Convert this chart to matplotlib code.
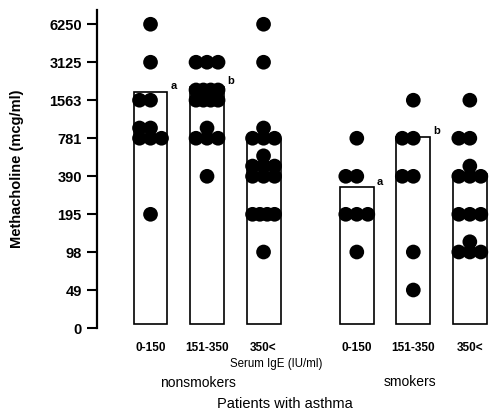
import numpy as np
import matplotlib.pyplot as plt

plt.rcParams['font.family'] = ['Liberation Sans', 'DejaVu Sans']

# datos (mcg/ml de metacolina)
ige_labels = ['0-150', '151-350', '350<', '0-150', '151-350', '350<']
group_names = ['nonsmokers', 'smokers']
bar_heights = [1814, 1985, 768, 318, 800, 406]
bar_marks = ['a', 'b', '', 'a', 'b', '']

dots_ns_low = [6250, 3125, 1563, 1563, 781, 781, 781, 781, 781, 195]
dots_ns_mid = [3125, 3125, 3125, 1563, 1563, 1563, 1563, 1563, 1563, 1563, 1563,
               781, 781, 781, 781, 390]
dots_ns_high = [6250, 3125, 781, 781, 781, 781, 390, 390, 390, 390, 390, 390, 390,
                195, 195, 195, 195, 98]
dots_s_low = [781, 390, 390, 195, 195, 195, 98]
dots_s_mid = [1563, 781, 781, 390, 390, 98, 49]
dots_s_high = [1563, 781, 781, 390, 390, 390, 390, 195, 195, 195, 98, 98, 98, 98]
all_dots = [dots_ns_low, dots_ns_mid, dots_ns_high, dots_s_low, dots_s_mid, dots_s_high]

tick_values = [0, 49, 98, 195, 390, 781, 1563, 3125, 6250]

# posiciones de las barras
x_pos = [0, 1, 2, 3.65, 4.65, 5.65]
# filas de 4 puntos en algunos grupos
row_width = {(1, 1563): 4, (2, 195): 4}


def to_level(v):
    # escala de diluciones dobles: cada dilucion es un paso
    if v <= 0:
        return 0.0
    return 1 + np.log2(v / 49)


fig = plt.figure(figsize=(4.93, 4.12), dpi=100)
ax = fig.add_axes([97 / 493, 1 - 328 / 412, 396 / 493, 318 / 412])

# barras
for i in range(6):
    top = to_level(bar_heights[i])
    ax.bar(x_pos[i], top - 0.1, bottom=0.1, width=0.6, color='white',
           edgecolor='black', linewidth=1.2, zorder=1)
    if bar_marks[i]:
        ax.text(x_pos[i] + 0.35, top + 0.02, bar_marks[i], fontsize=8,
                fontweight='bold', ha='left', va='bottom')

# puntos
for i, vals in enumerate(all_dots):
    xs, ys = [], []
    for v in sorted(set(vals)):
        n = vals.count(v)
        w = row_width.get((i, v), 3)
        step = 0.39 / (w - 1)
        r = 0
        while n > 0:
            k = min(n, w)
            if k == 1:
                offs = [0.0]
            else:
                offs = (np.arange(k) - (w - 1) / 2) * step
            for o in offs:
                xs.append(x_pos[i] + o)
                ys.append(to_level(v) + r * 0.27)
            n -= k
            r += 1
    ax.scatter(xs, ys, s=112, color='black', edgecolors='none', zorder=3, clip_on=False)

ax.set_xlim(-0.947, 6.06)
ax.set_ylim(0, 8.37)
ax.set_yticks([to_level(v) for v in tick_values])
ax.set_yticklabels([str(v) for v in tick_values], fontsize=10.5, fontweight='bold')
ax.set_xticks(x_pos)
ax.set_xticklabels(ige_labels, fontsize=8.5, fontweight='bold')
ax.tick_params(axis='x', length=0, pad=10)
ax.tick_params(axis='y', direction='out', length=7, width=1.5, pad=4)
ax.spines['top'].set_visible(False)
ax.spines['right'].set_visible(False)
ax.spines['bottom'].set_visible(False)
ax.spines['left'].set_linewidth(1.6)

ax.set_ylabel('Methacholine (mcg/ml)', fontsize=10.5, fontweight='bold', labelpad=18)

fig.text(276 / 493, 1 - 364 / 412, 'Serum IgE (IU/ml)', fontsize=8.3, ha='center', va='center')
fig.text(198 / 493, 1 - 383 / 412, group_names[0], fontsize=10, ha='center', va='center')
fig.text(410 / 493, 1 - 382 / 412, group_names[1], fontsize=10, ha='center', va='center')
fig.text(285 / 493, 1 - 404 / 412, 'Patients with asthma', fontsize=10.5, ha='center', va='center')

plt.savefig('out.png', dpi=100)
